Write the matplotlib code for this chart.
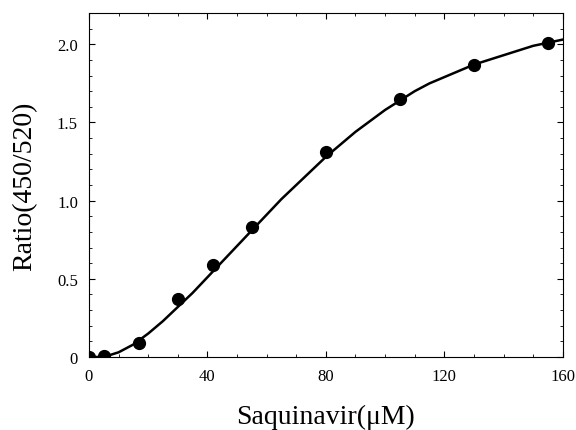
import matplotlib
matplotlib.use("Agg")
import matplotlib.pyplot as plt
from matplotlib.ticker import MultipleLocator, FuncFormatter

# measured points
conc = [0, 5, 17, 30, 42, 55, 80, 105, 130, 155]
ratio = [0.0, 0.005, 0.09, 0.37, 0.59, 0.83, 1.31, 1.65, 1.87, 2.01]

# fitted curve
fit_x = [0, 5, 10, 15, 20, 25, 30, 35, 40, 45, 50, 55, 60, 65, 70, 75, 80,
         85, 90, 95, 100, 105, 110, 115, 120, 125, 130, 135, 140, 145, 150, 155, 160]
fit_y = [0.0, 0.0, 0.03, 0.08, 0.15, 0.23, 0.32, 0.41, 0.51, 0.61, 0.71, 0.81,
         0.91, 1.01, 1.10, 1.19, 1.28, 1.36, 1.44, 1.51, 1.58, 1.64, 1.70, 1.75,
         1.79, 1.83, 1.87, 1.90, 1.93, 1.96, 1.99, 2.01, 2.03]

plt.rcParams['font.family'] = ['Liberation Serif', 'DejaVu Serif']

fig = plt.figure(figsize=(5.76, 4.31), dpi=100)
ax = fig.add_axes([0.1545, 0.1694, 0.8225, 0.7981])

ax.plot(fit_x, fit_y, color='black', lw=1.8)
ax.plot(conc, ratio, 'o', color='black', markersize=8.5)

ax.set_xlim(0, 160)
ax.set_ylim(0, 2.2)
ax.xaxis.set_major_locator(MultipleLocator(40))
ax.xaxis.set_minor_locator(MultipleLocator(10))
ax.yaxis.set_major_locator(MultipleLocator(0.5))
ax.yaxis.set_minor_locator(MultipleLocator(0.1))
ax.yaxis.set_major_formatter(FuncFormatter(lambda v, p: '0' if v == 0 else '%.1f' % v))
ax.tick_params(which='both', direction='in', top=True, right=True, labelsize=12)
ax.tick_params(which='major', length=4, pad=8)
ax.tick_params(which='minor', length=2)
for s in ax.spines.values():
    s.set_linewidth(0.8)

ax.set_xlabel('Saquinavir(μM)', fontsize=20, labelpad=14)
ax.set_ylabel('Ratio(450/520)', fontsize=20, labelpad=14)

fig.savefig('out.png', dpi=100)
